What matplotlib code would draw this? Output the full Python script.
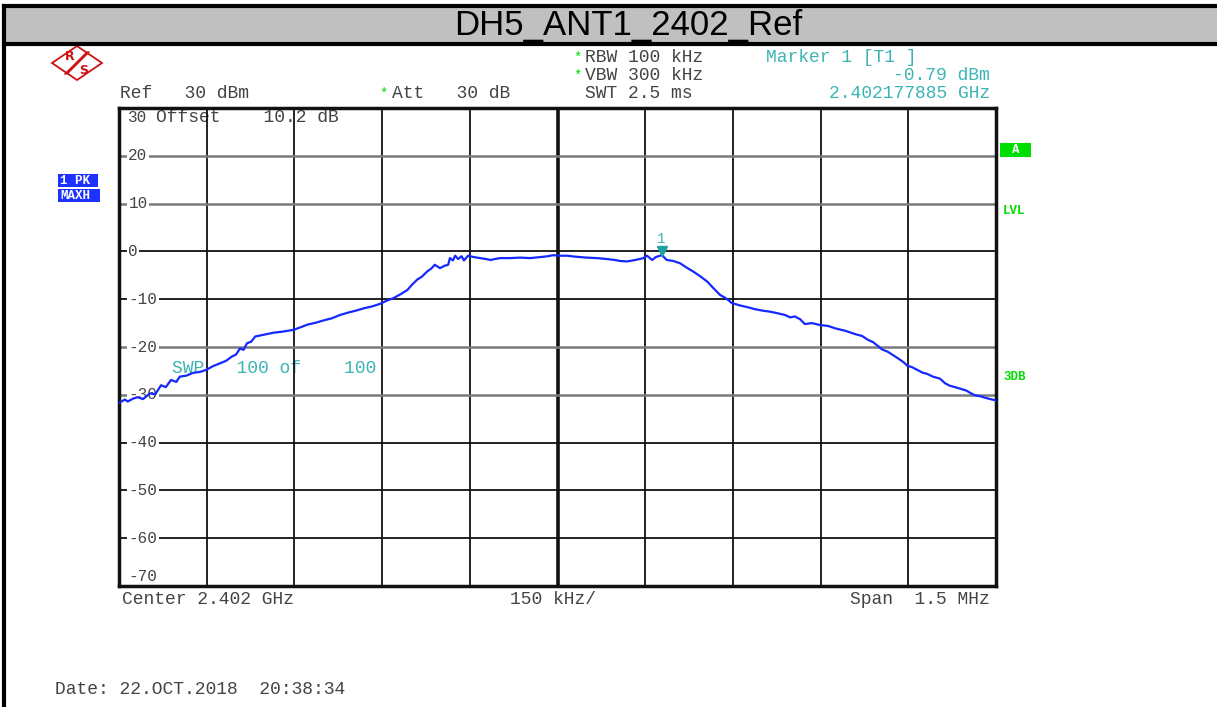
import matplotlib
matplotlib.use("Agg")
import matplotlib.pyplot as plt
from matplotlib.patches import Rectangle, Polygon
from matplotlib.lines import Line2D

W, H = 1217, 707
MONO = "Liberation Mono"
TEXT = "#444444"
TEAL = "#3cb4b4"
GREEN = "#00dd00"
BLUE = "#1e32ff"
TRACE = "#1428ff"

# max-hold trace: offset from centre (kHz) and level (dBm)
FREQ_KHZ = [
    -750, -740, -735, -726, -718, -709, -697, -688, -678, -670,
    -661, -652, -646, -635, -623, -611, -601, -589, -577, -567,
    -557, -550, -543, -537, -531, -524, -517, -509, -497, -485,
    -471, -461, -451, -440, -427, -413, -399, -386, -372, -358,
    -345, -331, -317, -304, -292, -281, -269, -257, -249, -240,
    -232, -223, -216, -210, -201, -193, -187, -184, -179, -175,
    -170, -164, -160, -153, -143, -133, -122, -115, -107, -98,
    -81, -64, -47, -30, -16, -8, 4, 16, 30, 50,
    67, 85, 98, 107, 119, 133, 147, 153, 162, 168,
    178, 182, 187, 198, 210, 221, 232, 244, 256, 266,
    278, 288, 298, 312, 326, 338, 351, 363, 375, 389,
    398, 406, 415, 423, 435, 449, 463, 475, 492, 509,
    521, 531, 540, 548, 555, 565, 574, 584, 593, 598,
    606, 617, 625, 632, 642, 654, 663, 671, 680, 688,
    699, 706, 714, 723, 731, 740, 748, 750,
]
LEVEL_DBM = [
    -31.7, -31.0, -31.4, -30.8, -30.5, -30.9, -29.7, -29.9, -28.0, -28.4,
    -26.9, -27.3, -26.2, -26.0, -25.4, -25.2, -24.8, -24.0, -23.4, -22.9,
    -22.0, -21.6, -20.3, -20.6, -19.2, -18.9, -17.8, -17.6, -17.3, -17.0,
    -16.8, -16.6, -16.4, -15.9, -15.3, -14.9, -14.4, -14.0, -13.3, -12.8,
    -12.4, -11.9, -11.5, -11.0, -10.3, -9.8, -9.0, -8.1, -7.0, -5.9,
    -5.3, -4.2, -3.6, -2.8, -3.5, -3.0, -2.8, -1.4, -1.9, -0.9,
    -1.6, -1.0, -1.9, -0.9, -1.2, -1.4, -1.6, -1.8, -1.6, -1.4,
    -1.4, -1.3, -1.4, -1.2, -1.0, -0.8, -0.9, -0.9, -1.1, -1.3,
    -1.4, -1.6, -1.8, -2.0, -2.1, -1.8, -1.4, -0.9, -1.8, -1.2,
    -0.79, -1.2, -1.8, -2.0, -2.5, -3.4, -4.2, -5.2, -6.3, -7.6,
    -9.1, -9.8, -10.8, -11.3, -11.7, -12.1, -12.4, -12.6, -12.9, -13.3,
    -13.8, -13.6, -14.2, -15.2, -15.0, -15.4, -15.6, -16.1, -16.6, -17.3,
    -17.7, -18.5, -19.0, -19.8, -20.5, -21.0, -21.7, -22.5, -23.3, -23.9,
    -24.2, -24.9, -25.4, -25.6, -26.2, -26.6, -27.6, -28.1, -28.4, -28.7,
    -29.1, -29.6, -30.1, -30.3, -30.6, -30.9, -31.1, -31.3,
]

MARKER_KHZ = 177.885
MARKER_DBM = -0.79

REF_LEVEL = 30
Y_MIN = -70
Y_GRID = [20, 10, 0, -10, -20, -30, -40, -50, -60]
Y_GRID_GREY = [20, 10, -20, -30]
X_GRID = [-600, -450, -300, -150, 0, 150, 300, 450, 600]
SPAN_KHZ = 1500


def px(x, y):
    return x / W, 1 - y / H


fig = plt.figure(figsize=(W / 100, H / 100), dpi=100)

# outer frame and title bar
fig.patches.append(Rectangle(px(4, 44), 1, 38 / H, transform=fig.transFigure,
                             facecolor="#c0c0c0", edgecolor="none", zorder=0))
for seg in [((4, 6), (W, 6)), ((4, 44), (W, 44)), ((4, 6), (4, H))]:
    (x0, y0), (x1, y1) = seg
    fig.add_artist(Line2D([x0 / W, x1 / W], [1 - y0 / H, 1 - y1 / H],
                          transform=fig.transFigure, color="black", lw=3))
fig.text(*px(628, 25), "DH5_ANT1_2402_Ref", ha="center", va="center",
         fontsize=25, family=["Liberation Sans Narrow", "Liberation Sans"])

# measurement grid
ax = fig.add_axes([119 / W, 1 - 586 / H, 877 / W, 478 / H])
ax.set_xlim(-SPAN_KHZ / 2, SPAN_KHZ / 2)
ax.set_ylim(Y_MIN, REF_LEVEL)
ax.set_xticks([])
ax.set_yticks([])
for sp in ax.spines.values():
    sp.set_linewidth(2.5)
    sp.set_color("#111111")

for xv in X_GRID:
    ax.axvline(xv, color="#111111", lw=2.6 if xv == 0 else 1.3, zorder=2)
for yv in Y_GRID:
    grey = yv in Y_GRID_GREY
    ax.axhline(yv, color="#7a7a7a" if grey else "#111111",
               lw=1.8 if grey else 1.3, zorder=2)
    ax.text(-734, yv, f"{yv}", ha="left", va="center", fontsize=11.5,
            family=MONO, color=TEXT, zorder=3,
            bbox=dict(facecolor="white", edgecolor="none", pad=1.0))
ax.text(-734, 28, "30", ha="left", va="center", fontsize=11.5,
        family=MONO, color=TEXT, zorder=1)
ax.text(-734, -68, "-70", ha="left", va="center", fontsize=11.5,
        family=MONO, color=TEXT, zorder=3)
ax.text(-686, 28.1, "Offset    10.2 dB", ha="left", va="center",
        fontsize=13, family=MONO, color=TEXT, zorder=1)
ax.text(-659, -24.5, "SWP   100 of    100", ha="left", va="center",
        fontsize=13, family=MONO, color=TEAL, zorder=1)

ax.plot(FREQ_KHZ, LEVEL_DBM, color=TRACE, lw=1.6, zorder=5)
ax.plot([MARKER_KHZ], [MARKER_DBM + 0.9], marker="v", ms=7,
        color="#20a0a0", zorder=6, linestyle="none")
ax.text(MARKER_KHZ, MARKER_DBM + 3.4, "1", ha="center", va="center",
        fontsize=10, family=MONO, color=TEAL, zorder=6)


# header settings
def label(x, y, s, color=TEXT, ha="left", size=13, weight="normal"):
    fig.text(*px(x, y), s, ha=ha, va="center", fontsize=size,
             family=MONO, color=color, weight=weight)


label(573, 58, "*", color=GREEN, size=10)
label(585, 58, "RBW 100 kHz")
label(573, 76, "*", color=GREEN, size=10)
label(585, 76, "VBW 300 kHz")
label(379, 94, "*", color=GREEN, size=10)
label(392, 94, "Att   30 dB")
label(120, 94, "Ref   30 dBm")
label(585, 94, "SWT 2.5 ms")
label(766, 58, "Marker 1 [T1 ]", color=TEAL)
label(990, 76, f"{MARKER_DBM:.2f} dBm", color=TEAL, ha="right")
label(990, 94, "2.402177885 GHz", color=TEAL, ha="right")

label(122, 599, "Center 2.402 GHz")
label(510, 599, "150 kHz/")
label(990, 599, "Span  1.5 MHz", ha="right")
label(55, 690, "Date: 22.OCT.2018  20:38:34")

# trace and status badges
for y0, h, w, s in [(174, 13, 40, "1 PK"), (189, 13, 42, "MAXH")]:
    fig.patches.append(Rectangle(px(58, y0 + h), w / W, h / H,
                                 transform=fig.transFigure,
                                 facecolor=BLUE, edgecolor="none"))
    fig.text(*px(60, y0 + h / 2), s, fontsize=9, family=MONO,
             weight="bold", color="white", va="center")
fig.patches.append(Rectangle(px(1000, 157), 31 / W, 14 / H,
                             transform=fig.transFigure,
                             facecolor=GREEN, edgecolor="none"))
fig.text(*px(1015.5, 150), "A", fontsize=9, family=MONO, weight="bold",
         color="white", ha="center", va="center")
label(1003, 211, "LVL", color=GREEN, size=9, weight="bold")
label(1003, 377, "3DB", color=GREEN, size=9, weight="bold")

# R&S logo
logo = fig.add_axes([50 / W, 1 - 82 / H, 54 / W, 38 / H])
logo.set_xlim(0, 54)
logo.set_ylim(38, 0)
logo.axis("off")
logo.add_patch(Polygon([(2, 19), (27, 2), (52, 19), (27, 36)], closed=True,
                       fill=False, edgecolor="#cc1111", lw=1.3))
for d in (-1.2, 0, 1.2):
    logo.plot([16 + d, 38 + d], [30, 8], color="#cc1111", lw=0.9)
logo.text(20, 13, "R", color="#cc1111", fontsize=9, weight="bold",
          ha="center", va="center")
logo.text(34, 26, "S", color="#cc1111", fontsize=9, weight="bold",
          ha="center", va="center")

fig.savefig("out.png", dpi=100)
